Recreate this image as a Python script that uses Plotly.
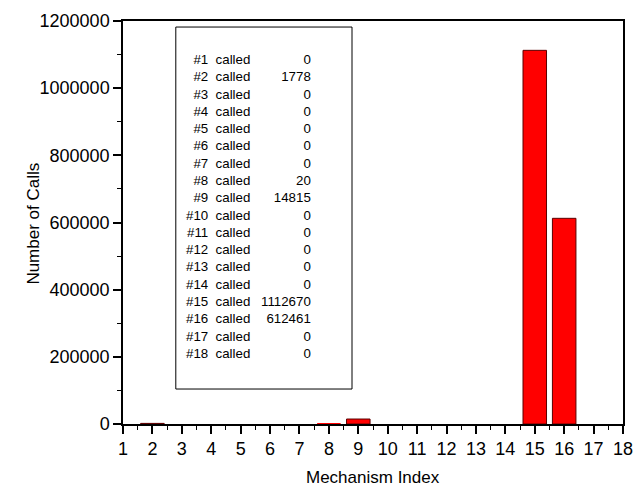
import plotly.graph_objects as go

# Mechanism call counts
mechanism_index = list(range(1, 19))
call_counts = [0, 1778, 0, 0, 0, 0, 0, 20, 14815, 0, 0, 0, 0, 0, 1112670, 612461, 0, 0]

x_ticks = list(range(1, 19))
y_ticks = [0, 200000, 400000, 600000, 800000, 1000000, 1200000]

FONT = "Liberation Sans, Arial, sans-serif"
Y_MAX = 1200000

# Outline only bars tall enough to show at this scale
outline_widths = [1 if c > Y_MAX * 0.001 else 0 for c in call_counts]

fig = go.Figure()
fig.add_trace(go.Bar(
    x=mechanism_index,
    y=call_counts,
    width=0.8,
    marker=dict(
        color="#ff0000",
        line=dict(color="#5a0000", width=outline_widths),
    ),
    showlegend=False,
))

# Summary box listing every mechanism and its count
label_lines = "<br>".join(f"#{i}  called" for i in mechanism_index)
count_lines = "<br>".join(str(c) for c in call_counts)

fig.add_shape(type="rect", xref="paper", yref="paper",
              x0=0.1056, x1=0.458, y0=0.0868, y1=0.985,
              line=dict(color="black", width=1), fillcolor="white", layer="above")
fig.add_annotation(xref="paper", yref="paper", x=0.2575, y=0.5397,
                   xanchor="right", yanchor="middle", align="right",
                   text=label_lines, showarrow=False,
                   font=dict(family=FONT, size=13.3, color="black"))
fig.add_annotation(xref="paper", yref="paper", x=0.3805, y=0.5397,
                   xanchor="right", yanchor="middle", align="right",
                   text=count_lines, showarrow=False,
                   font=dict(family=FONT, size=13.3, color="black"))

# Axis titles
fig.add_annotation(xref="paper", yref="paper", x=0.5, y=-0.133,
                   xanchor="center", yanchor="middle",
                   text="Mechanism Index", showarrow=False,
                   font=dict(family=FONT, size=17, color="black"))
fig.add_annotation(xref="paper", yref="paper", x=-0.179, y=0.496,
                   xanchor="center", yanchor="middle", textangle=-90,
                   text="Number of Calls", showarrow=False,
                   font=dict(family=FONT, size=17, color="black"))

axis_common = dict(
    showline=True, linecolor="black", linewidth=1.5, mirror=True,
    showgrid=False, zeroline=False, automargin=False,
    ticks="outside", ticklen=8, tickwidth=1.5, tickcolor="black",
    tickfont=dict(family=FONT, size=18, color="black"),
)

fig.update_xaxes(
    range=[1, 18], tickmode="array", tickvals=x_ticks,
    ticktext=[str(t) for t in x_ticks],
    minor=dict(ticks="outside", ticklen=4, tickwidth=1, tickcolor="black", dtick=0.5, tick0=1),
    **axis_common,
)
fig.update_yaxes(
    range=[0, Y_MAX], tickmode="array", tickvals=y_ticks,
    ticktext=[str(t) for t in y_ticks],
    minor=dict(ticks="outside", ticklen=4, tickwidth=1, tickcolor="black", dtick=100000, tick0=0),
    **axis_common,
)

fig.update_layout(
    width=644, height=489,
    margin=dict(l=123, r=21, t=21, b=65),
    plot_bgcolor="white", paper_bgcolor="white",
    font=dict(family=FONT, color="black"),
    bargap=0.2,
)

fig.write_html("out.html")
